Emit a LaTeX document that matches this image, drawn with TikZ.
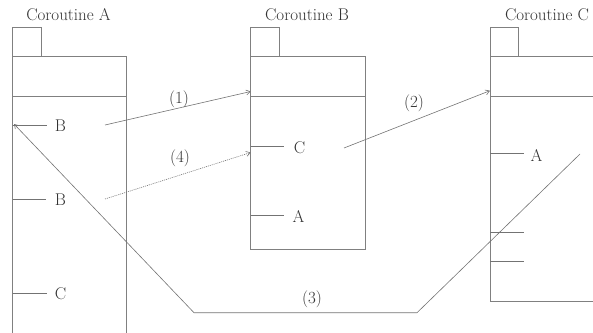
\documentclass[tikz,border=0pt]{standalone}
\usetikzlibrary{arrows.meta}
\begin{document}
\begin{tikzpicture}[x=1pt,y=-1pt,
  frame/.style={draw=black!50,line width=0.7pt},
  tick/.style={draw=black!55,line width=0.7pt},
  lbl/.style={text=black!80,font=\fontsize{17}{19}\selectfont,inner sep=0pt},
  conn/.style={draw=black!55,line width=0.6pt},
  tip/.style={-{Straight Barb[length=4pt,width=5pt]}}]
\useasboundingbox (0,0) rectangle (593,332);
\begin{scope}
\clip (0,0) rectangle (593,332);
% Coroutine A
\node[lbl] (tA) at (68.5,15) {Coroutine A};
\draw[frame] (12.7,56) -- (12.7,27.7) -- (41,27.7) -- (41,56);
\draw[frame] (12.7,340) -- (12.7,56) -- (126,56) -- (126,340);
\draw[frame] (12.7,96.7) -- (126,96.7);
\coordinate (a1) at (12.7,125);
\coordinate (a2) at (12.7,199);
\coordinate (a3) at (12.7,293);
\draw[tick] (a1) -- ++(34,0);
\draw[tick] (a2) -- ++(33,0);
\draw[tick] (a3) -- ++(34,0);
\node[lbl] (aB1) at (60.5,125.5) {B};
\node[lbl] (aB2) at (60.5,199.5) {B};
\node[lbl] (aC) at (60.5,293.5) {C};
% Coroutine B
\node[lbl] (tB) at (307,15) {Coroutine B};
\draw[frame] (250.7,56) -- (250.7,27.7) -- (279.3,27.7) -- (279.3,56);
\draw[frame] (250.7,56) rectangle (365,249);
\draw[frame] (250.7,96.7) -- (365,96.7);
\coordinate (b0) at (250.7,91.5);
\coordinate (b1) at (250.7,146.7);
\coordinate (b1in) at (250.7,152.5);
\coordinate (b2) at (250.7,215.7);
\draw[tick] (b1) -- ++(33.5,0);
\draw[tick] (b2) -- ++(33.5,0);
\node[lbl] (bC) at (299.5,147.5) {C};
\node[lbl] (bA) at (298.5,216.5) {A};
% Coroutine C
\node[lbl] (tC) at (547,15) {Coroutine C};
\draw[frame] (490,56) -- (490,27.7) -- (518.3,27.7) -- (518.3,56);
\draw[frame] (600,56) -- (490,56) -- (490,301) -- (600,301);
\draw[frame] (490,96.7) -- (600,96.7);
\coordinate (c0) at (490,90.7);
\coordinate (c1) at (490,153.3);
\coordinate (c2) at (490,232.3);
\coordinate (c3) at (490,261);
\draw[tick] (c1) -- ++(33.5,0);
\draw[tick] (c2) -- ++(34,0);
\draw[tick] (c3) -- ++(34,0);
\node[lbl] (cA) at (536.5,155) {A};
% connectors
\coordinate (s1) at (105,125);
\coordinate (s4) at (105,199);
\coordinate (s2) at (344,148);
\coordinate (s3) at (580,154);
\coordinate (k1) at (417,312.7);
\coordinate (k2) at (194,312.7);
\coordinate (e3) at (14,124);
\draw[conn,tip] (s1) -- (b0);
\draw[conn,tip,dash pattern=on 1pt off 1pt] (s4) -- (b1in);
\draw[conn,tip] (s2) -- (c0);
\draw[conn,tip] (s3) -- (k1) -- (k2) -- (e3);
\node[lbl] (l1) at (179,99) {(1)};
\node[lbl] (l4) at (180,158) {(4)};
\node[lbl] (l2) at (414,103) {(2)};
\node[lbl] (l3) at (312,299) {(3)};
\end{scope}
\end{tikzpicture}
\end{document}
